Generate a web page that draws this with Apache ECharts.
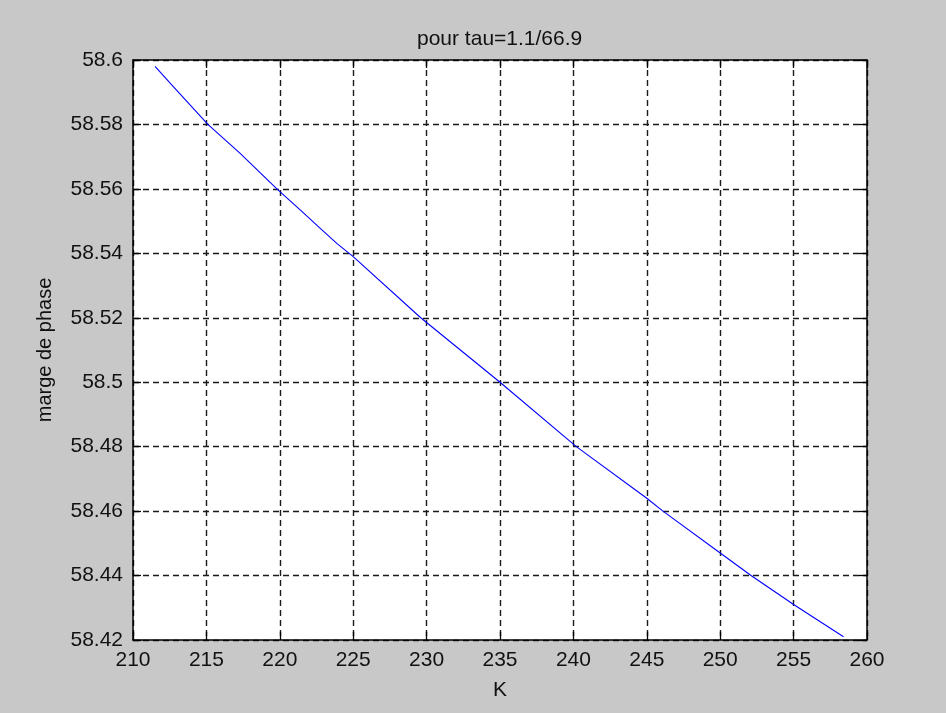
<!DOCTYPE html>
<html>
<head>
<meta charset="utf-8">
<title>marge de phase</title>
<script src="https://cdn.jsdelivr.net/npm/echarts@6/dist/echarts.min.js"></script>
<style>
  html, body { margin: 0; padding: 0; background: #c8c8c8; }
  #chart { width: 946px; height: 713px; }
</style>
</head>
<body>
<div id="chart"></div>
<script>
// Gain K and the resulting phase margin (degrees)
const gainK = [211.5, 212.7, 215.1, 217.3, 219.8, 221.5, 222.7, 223.9, 225.0,
               229.6, 235.0, 240.2, 245.0, 246.1, 250.0, 252.1, 255.0, 258.4];
const phaseMargin = [58.598, 58.592, 58.580, 58.571, 58.560, 58.553, 58.548, 58.543, 58.539,
                     58.520, 58.500, 58.480, 58.464, 58.460, 58.447, 58.440, 58.431, 58.421];

const xRange = { min: 210, max: 260, step: 5 };
const yRange = { min: 58.42, max: 58.6, step: 0.02 };

const titleText = 'pour tau=1.1/66.9';
const xName = 'K';
const yName = 'marge de phase';

const FONT = '"Liberation Sans", Arial, sans-serif';
const TXT = '#111';

const series = gainK.map((k, i) => [k, phaseMargin[i]]);

const fmtY = v => String(parseFloat(Number(v).toFixed(4)));

const boxLine = { show: true, onZero: false, lineStyle: { color: '#000', width: 1.5 } };
const innerTick = { show: true, inside: true, length: 8, lineStyle: { color: '#000', width: 1.3 } };
const dashGrid = { show: true, lineStyle: { color: '#1a1a1a', width: 1.4, type: [6, 4] } };

const chart = echarts.init(document.getElementById('chart'), null, { renderer: 'canvas' });
chart.setOption({
  backgroundColor: '#c8c8c8',
  animation: false,
  title: {
    text: titleText,
    left: 412,
    top: 24,
    textStyle: { fontFamily: FONT, fontSize: 21, fontWeight: 'normal', color: TXT }
  },
  grid: { left: 133, right: 79, top: 60, bottom: 73, containLabel: false,
          show: true, backgroundColor: '#ffffff', borderWidth: 0 },
  xAxis: [
    {
      type: 'value', position: 'bottom',
      min: xRange.min, max: xRange.max, interval: xRange.step,
      name: xName, nameLocation: 'middle', nameGap: 40,
      nameTextStyle: { fontFamily: FONT, fontSize: 21, color: TXT },
      axisLine: boxLine, axisTick: innerTick, splitLine: dashGrid,
      axisLabel: { fontFamily: FONT, fontSize: 21, color: TXT, margin: 10 }
    },
    {
      type: 'value', position: 'top',
      min: xRange.min, max: xRange.max, interval: xRange.step,
      axisLine: boxLine, axisTick: innerTick, splitLine: { show: false },
      axisLabel: { show: false }
    }
  ],
  yAxis: [
    {
      type: 'value', position: 'left',
      min: yRange.min, max: yRange.max, interval: yRange.step,
      name: yName, nameLocation: 'middle', nameGap: 78, nameRotate: 90,
      nameTextStyle: { fontFamily: FONT, fontSize: 20, color: TXT },
      axisLine: boxLine, axisTick: innerTick, splitLine: dashGrid,
      axisLabel: { fontFamily: FONT, fontSize: 21, color: TXT, margin: 10, formatter: fmtY }
    },
    {
      type: 'value', position: 'right',
      min: yRange.min, max: yRange.max, interval: yRange.step,
      axisLine: boxLine, axisTick: innerTick, splitLine: { show: false },
      axisLabel: { show: false }
    }
  ],
  series: [{
    type: 'line',
    xAxisIndex: 0, yAxisIndex: 0,
    data: series,
    showSymbol: false,
    smooth: false,
    lineStyle: { color: '#0000ff', width: 1.1 },
    z: 5
  }]
});
</script>
</body>
</html>
